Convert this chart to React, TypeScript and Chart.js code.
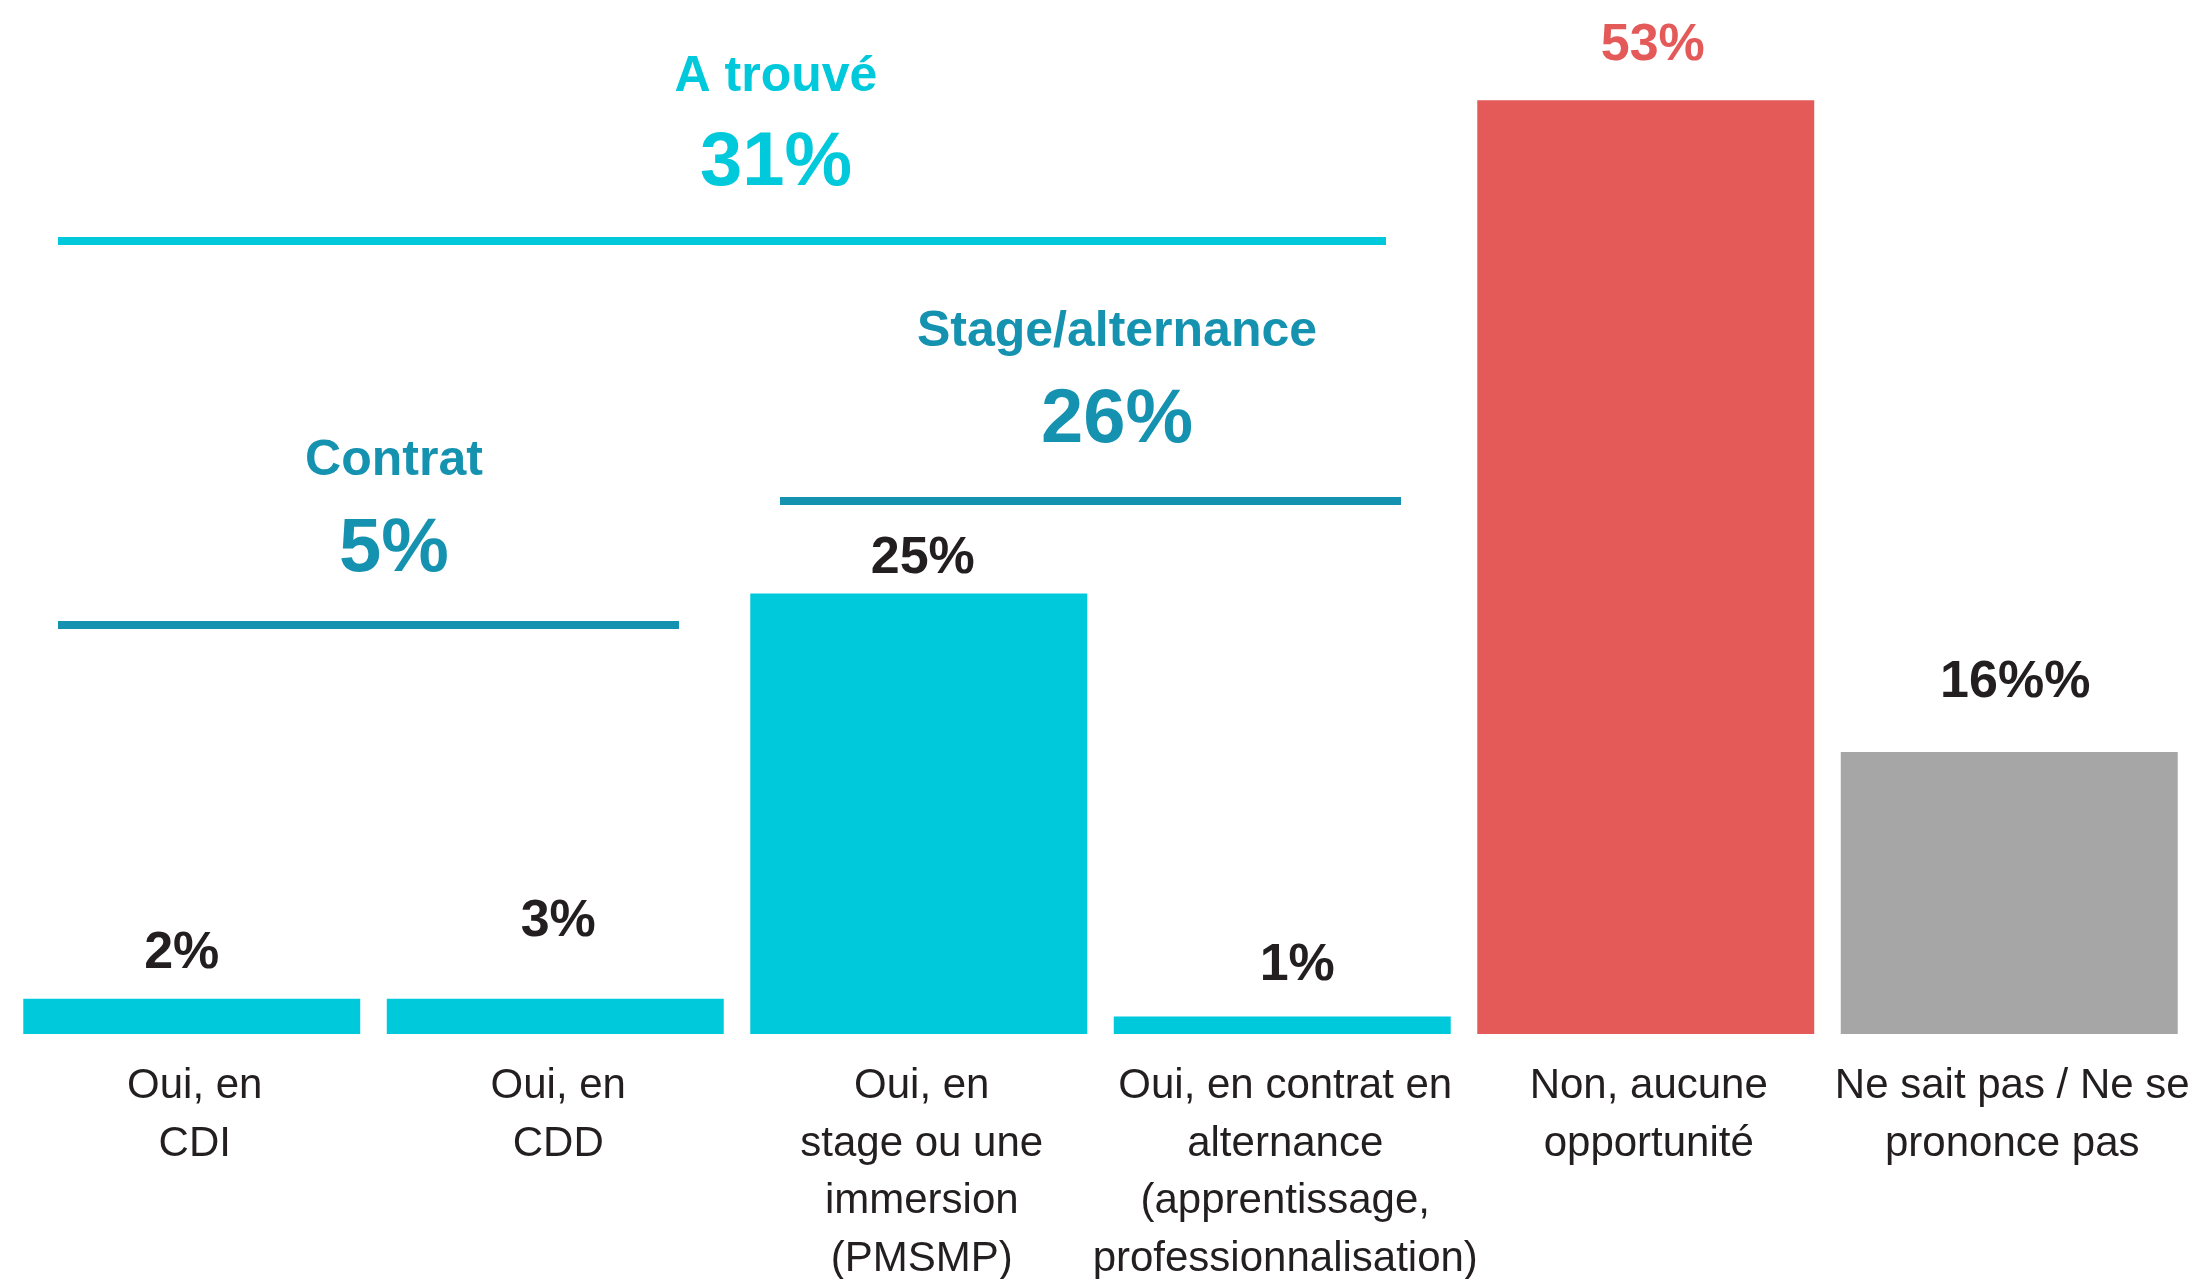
import React, { useEffect, useRef } from "react";
import { Chart, registerables } from "chart.js";

Chart.register(...registerables);

// ---- data ----
const categories: string[][] = [
  ["Oui, en", "CDI"],
  ["Oui, en", "CDD"],
  ["Oui, en", "stage ou une", "immersion", "(PMSMP)"],
  ["Oui, en contrat en", "alternance", "(apprentissage,", "professionnalisation)"],
  ["Non, aucune", "opportunité"],
  ["Ne sait pas / Ne se", "prononce pas"],
];
const barValues = [2, 2, 25, 1, 53, 16];
const valueLabels = ["2%", "3%", "25%", "1%", "53%", "16%%"];
const groupTitles = ["A trouvé", "Stage/alternance", "Contrat"];
const groupValues = ["31%", "26%", "5%"];

// ---- styles ----
const CYAN = "#00C9DB";
const TEAL = "#1592AF";
const RED = "#E45A59";
const GRAY = "#A6A6A6";
const DARK = "#231F20";
const FONT = "'Liberation Sans', Arial, sans-serif";

const barColors = [CYAN, CYAN, CYAN, CYAN, RED, GRAY];
const valueLabelColors = [DARK, DARK, DARK, DARK, RED, DARK];
// distance from bar top to label baseline, and horizontal nudges
const valueLabelLift = [31, 63, 21, 36, 40, 55];
const valueLabelDx = [-10, 3, 4, 15, 7, 6];

// group annotation layout (pixels)
const groupLayout = [
  { color: CYAN, cx: 776, titleY: 91, valueY: 185, x1: 58, x2: 1386, lineY: 237, lineH: 8 },
  { color: TEAL, cx: 1117, titleY: 346, valueY: 442, x1: 780, x2: 1401, lineY: 497, lineH: 8 },
  { color: TEAL, cx: 394, titleY: 475, valueY: 571, x1: 58, x2: 679, lineY: 621, lineH: 8 },
];

const annotationsPlugin = {
  id: "annotations",
  afterDatasetsDraw(chart: any) {
    const ctx = chart.ctx as CanvasRenderingContext2D;
    const meta = chart.getDatasetMeta(0);
    ctx.save();
    ctx.textAlign = "center";
    ctx.textBaseline = "alphabetic";
    meta.data.forEach((bar: any, i: number) => {
      ctx.font = `bold 52px ${FONT}`;
      ctx.fillStyle = valueLabelColors[i];
      ctx.fillText(valueLabels[i], bar.x + valueLabelDx[i], bar.y - valueLabelLift[i]);
    });
    groupLayout.forEach((g, i) => {
      ctx.fillStyle = g.color;
      ctx.font = `bold 50px ${FONT}`;
      ctx.fillText(groupTitles[i], g.cx, g.titleY);
      ctx.font = `bold 76px ${FONT}`;
      ctx.fillText(groupValues[i], g.cx, g.valueY);
      ctx.fillRect(g.x1, g.lineY, g.x2 - g.x1, g.lineH);
    });
    ctx.restore();
  },
};

export default function App() {
  const ref = useRef<HTMLCanvasElement | null>(null);
  useEffect(() => {
    if (!ref.current) return;
    const chart = new Chart(ref.current, {
      type: "bar",
      data: {
        labels: categories as any,
        datasets: [
          {
            data: barValues,
            backgroundColor: barColors,
            borderWidth: 0,
            categoryPercentage: 1,
            barPercentage: 0.927,
          },
        ],
      },
      options: {
        animation: false,
        responsive: false,
        devicePixelRatio: 1,
        layout: { padding: { top: 65, left: 10, right: 13, bottom: 0 } },
        plugins: { legend: { display: false }, tooltip: { enabled: false } },
        scales: {
          x: {
            grid: { display: false, drawTicks: false },
            border: { display: false },
            ticks: {
              autoSkip: false,
              maxRotation: 0,
              minRotation: 0,
              padding: 24,
              labelOffset: 3,
              color: DARK,
              font: { family: FONT, size: 42, lineHeight: 1.37 },
            },
            afterFit: (scale: any) => {
              scale.height = 245;
              scale.paddingLeft = 0;
              scale.paddingRight = 0;
            },
          },
          y: { display: false, min: 0, max: 55 },
        },
      },
      plugins: [annotationsPlugin],
    });
    return () => chart.destroy();
  }, []);
  return (
    <div style={{ position: "fixed", left: 0, top: 0, width: 2204, height: 1279, background: "#fff" }}>
      <canvas ref={ref} width={2204} height={1279} />
    </div>
  );
}
